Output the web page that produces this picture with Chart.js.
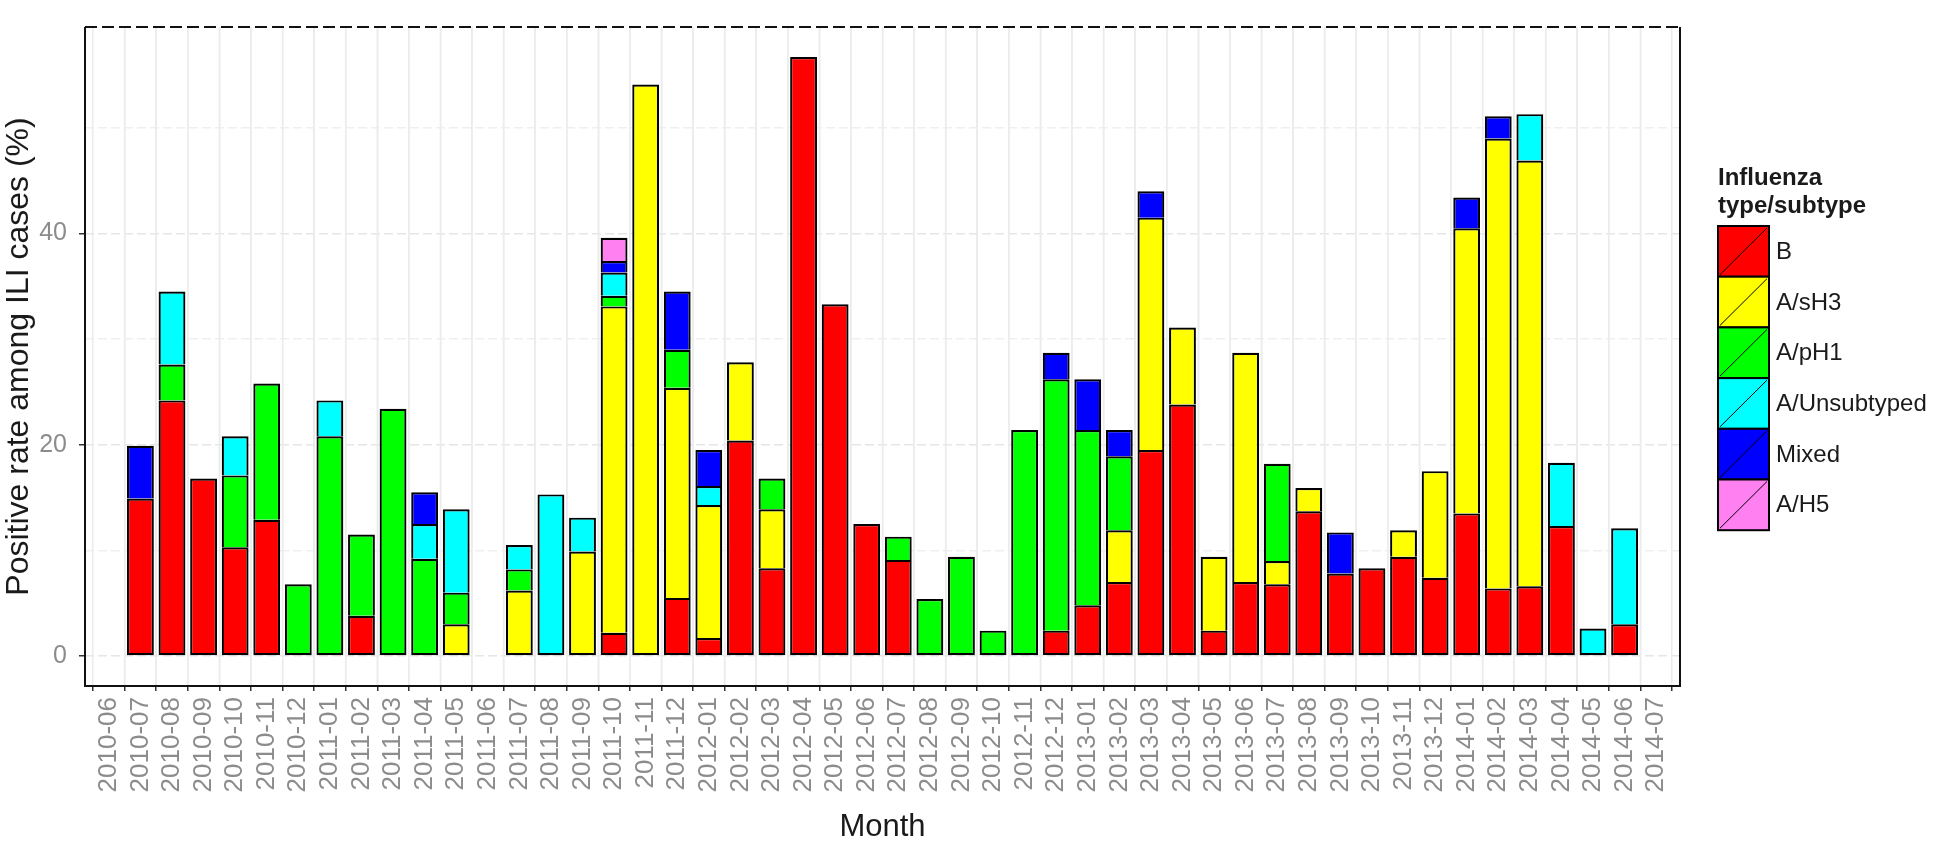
<!DOCTYPE html>
<html>
<head>
<meta charset="utf-8">
<script src="https://cdn.jsdelivr.net/npm/chart.js@4.4.1/dist/chart.umd.min.js"></script>
<style>
  html, body { margin: 0; padding: 0; background: #fff; }
</style>
</head>
<body>
<canvas id="fluChart" width="1946" height="846"></canvas>
<script>
// Meses (eje x)
const months = [
    '2010-06', '2010-07', '2010-08', '2010-09', '2010-10', '2010-11', '2010-12',
    '2011-01', '2011-02', '2011-03', '2011-04', '2011-05', '2011-06', '2011-07', '2011-08', '2011-09', '2011-10', '2011-11', '2011-12',
    '2012-01', '2012-02', '2012-03', '2012-04', '2012-05', '2012-06', '2012-07', '2012-08', '2012-09', '2012-10', '2012-11', '2012-12',
    '2013-01', '2013-02', '2013-03', '2013-04', '2013-05', '2013-06', '2013-07', '2013-08', '2013-09', '2013-10', '2013-11', '2013-12',
    '2014-01', '2014-02', '2014-03', '2014-04', '2014-05', '2014-06', '2014-07'
];

// Valores por tipo/subtipo (%)
const fluB = [
    null, 14.9, 24.2, 16.8, 10.3, 12.9, null, null, 3.8, null,
    null, null, 0, null, null, null, 2.2, null, 5.5, 1.7,
    20.4, 8.3, 56.7, 33.3, 12.5, 9.1, null, null, null, null,
    2.4, 4.8, 7.0, 19.5, 23.8, 2.4, 7.0, 6.8, 13.7, 7.8,
    8.3, 9.4, 7.4, 13.5, 6.4, 6.6, 12.3, null, 3.0, null
];
const fluSH3 = [
    null, null, null, null, null, null, null, null, null, null,
    null, 3.0, null, 6.2, null, 9.9, 30.9, 54.1, 19.9, 12.6,
    7.4, 5.6, null, null, null, null, null, null, null, null,
    null, null, 4.9, 22.0, 7.3, 7.0, 21.7, 2.2, 2.2, null,
    null, 2.5, 10.1, 27.0, 42.6, 40.3, null, null, null, null
];
const fluPH1 = [
    null, null, 3.4, null, 6.8, 12.9, 6.8, 20.8, 7.7, 23.4,
    9.2, 3.0, null, 2.0, null, null, 1.0, null, 3.6, null,
    null, 2.9, null, null, null, 2.2, 5.4, 9.4, 2.4, 21.4,
    23.8, 16.6, 7.0, null, null, null, null, 9.2, null, null,
    null, null, null, null, null, null, null, null, null, null
];
const fluUnsub = [
    null, null, 6.9, null, 3.7, null, null, 3.4, null, null,
    3.3, 7.9, null, 2.3, 15.3, 3.2, 2.2, null, null, 1.8,
    null, null, null, null, null, null, null, null, null, null,
    null, null, null, null, null, null, null, null, null, null,
    null, null, null, null, null, 4.4, 6.0, 2.6, 9.1, null
];
const fluMixed = [
    null, 5.0, null, null, null, null, null, null, null, null,
    3.0, null, null, null, null, null, 1.1, null, 5.5, 3.4,
    null, null, null, null, null, null, null, null, null, null,
    2.5, 4.8, 2.5, 2.5, null, null, null, null, null, 3.9,
    null, null, null, 2.9, 2.1, null, null, null, null, null
];
const fluH5 = [
    null, null, null, null, null, null, null, null, null, null,
    null, null, null, null, null, null, 2.2, null, null, null,
    null, null, null, null, null, null, null, null, null, null,
    null, null, null, null, null, null, null, null, null, null,
    null, null, null, null, null, null, null, null, null, null
];

const seriesNames = ['B', 'A/sH3', 'A/pH1', 'A/Unsubtyped', 'Mixed', 'A/H5'];
const seriesValues = [fluB, fluSH3, fluPH1, fluUnsub, fluMixed, fluH5];
const seriesColors = ['#ff0000', '#ffff00', '#00ff00', '#00ffff', '#0000ff', '#ff80f0'];
const legendTitle = ['Influenza', 'type/subtype'];
const yTicks = [0, 20, 40];

const FONT = '"Liberation Sans", Arial, sans-serif';
Chart.defaults.font.family = FONT;

// Lineas de cuadricula menores y borde del panel
const panelFrame = {
    id: 'panelFrame',
    beforeDatasetsDraw(chart) {
        const {ctx, chartArea: a, scales: {x}} = chart;
        ctx.save();
        ctx.strokeStyle = '#ececec';
        ctx.lineWidth = 1.5;
        for (let i = 0; i < months.length - 1; i++) {
            const px = x.getPixelForValue(i + 0.5);
            ctx.beginPath();
            ctx.moveTo(px, a.top);
            ctx.lineTo(px, a.bottom);
            ctx.stroke();
        }
        ctx.restore();
    },
    afterDraw(chart) {
        const {ctx, chartArea: a} = chart;
        ctx.save();
        ctx.strokeStyle = '#111';
        ctx.lineWidth = 2;
        ctx.beginPath();
        ctx.moveTo(a.left, a.top);
        ctx.lineTo(a.left, a.bottom);
        ctx.lineTo(a.right, a.bottom);
        ctx.lineTo(a.right, a.top);
        ctx.stroke();
        ctx.setLineDash([12, 5]);
        ctx.beginPath();
        ctx.moveTo(a.left, a.top);
        ctx.lineTo(a.right, a.top);
        ctx.stroke();
        ctx.restore();
    }
};

// Leyenda estilo ggplot
const legendKeys = {
    id: 'legendKeys',
    afterDraw(chart) {
        const ctx = chart.ctx;
        const x0 = 1718, keyW = 51, keyH = 50.7, y0 = 226;
        ctx.save();
        ctx.fillStyle = '#1a1a1a';
        ctx.font = 'bold 24px ' + FONT;
        ctx.textBaseline = 'alphabetic';
        legendTitle.forEach((t, i) => ctx.fillText(t, x0, 185 + i * 28));
        chart.data.datasets.forEach((ds, i) => {
            const y = y0 + i * keyH;
            ctx.fillStyle = ds.backgroundColor;
            ctx.fillRect(x0, y, keyW, keyH);
            ctx.strokeStyle = '#000';
            ctx.lineWidth = 2;
            ctx.strokeRect(x0, y, keyW, keyH);
            ctx.lineWidth = 1;
            ctx.beginPath();
            ctx.moveTo(x0 + 2, y + keyH - 2);
            ctx.lineTo(x0 + keyW - 2, y + 2);
            ctx.stroke();
            ctx.fillStyle = '#1a1a1a';
            ctx.font = '24px ' + FONT;
            ctx.textBaseline = 'middle';
            ctx.fillText(ds.label, x0 + keyW + 7, y + keyH / 2 + 1);
        });
        ctx.restore();
    }
};

// Borde inferior solo en el segmento mas bajo de cada barra apilada
function segmentBorder(c) {
    const i = c.dataIndex;
    const below = seriesValues.slice(0, c.datasetIndex).some(arr => arr[i]);
    return { top: 2.2, left: 2.2, right: 2.2, bottom: below ? 0 : 2.2 };
}

const datasets = seriesNames.map((name, k) => ({
    label: name,
    data: seriesValues[k].map((v, i) => ({x: i, y: v})),
    backgroundColor: seriesColors[k],
    borderColor: '#000',
    borderWidth: segmentBorder,
    borderSkipped: false,
    categoryPercentage: 0.85,
    barPercentage: 1
}));

new Chart(document.getElementById('fluChart').getContext('2d'), {
    type: 'bar',
    data: { datasets: datasets },
    options: {
        responsive: false,
        devicePixelRatio: 1,
        animation: false,
        layout: { padding: { top: 5, right: 266, left: 0, bottom: 0 } },
        plugins: {
            legend: { display: false },
            tooltip: { enabled: false }
        },
        scales: {
            x: {
                type: 'linear',
                stacked: true,
                min: -0.25,
                max: 49.25,
                afterFit: (scale) => { scale.height = 160; },
                ticks: {
                    stepSize: 1,
                    includeBounds: false,
                    autoSkip: false,
                    minRotation: 90,
                    maxRotation: 90,
                    padding: 6,
                    color: '#8c8c8c',
                    font: { size: 26 },
                    callback: (v) => months[v] ?? ''
                },
                grid: {
                    color: '#ececec',
                    lineWidth: 1.5,
                    tickColor: '#333',
                    tickLength: 5,
                    tickWidth: 1.5
                },
                border: { display: false },
                title: {
                    display: true,
                    text: 'Month',
                    color: '#1a1a1a',
                    font: { size: 31 },
                    padding: { top: 0, bottom: 0 }
                }
            },
            y: {
                stacked: true,
                min: -2.84,
                max: 59.55,
                afterFit: (scale) => { scale.width = 85; },
                ticks: {
                    stepSize: 10,
                    includeBounds: false,
                    padding: 12,
                    color: '#8c8c8c',
                    font: { size: 25 },
                    callback: (v) => yTicks.includes(v) ? v : ''
                },
                grid: {
                    color: (c) => yTicks.includes(c.tick && c.tick.value) ? '#e6e6e6' : '#efefef',
                    lineWidth: 1.5,
                    tickColor: (c) => yTicks.includes(c.tick && c.tick.value) ? '#333' : 'rgba(0,0,0,0)',
                    tickLength: 6,
                    tickWidth: 1.5
                },
                border: { display: false, dash: [9, 4] },
                title: {
                    display: true,
                    text: 'Positive rate among ILI cases (%)',
                    color: '#1a1a1a',
                    font: { size: 32 },
                    padding: { top: 0, bottom: 0 }
                }
            }
        }
    },
    plugins: [panelFrame, legendKeys]
});
</script>
</body>
</html>
